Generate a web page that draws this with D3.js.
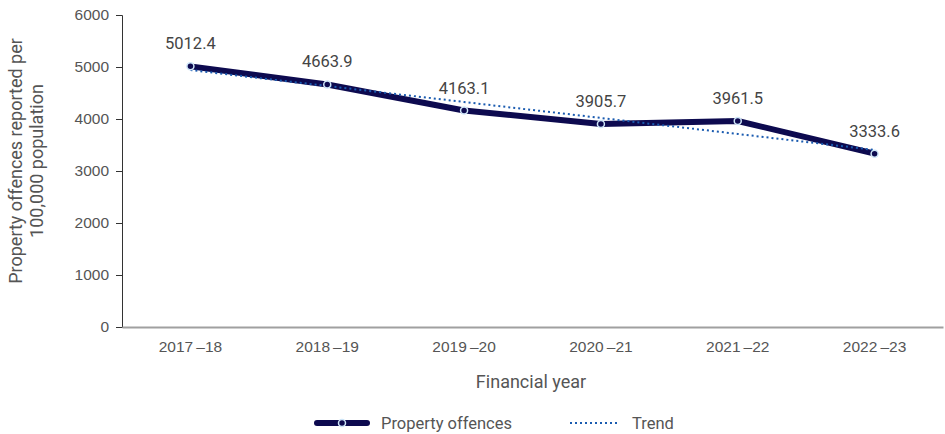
<!DOCTYPE html>
<html>
<head>
<meta charset="utf-8">
<script src="https://cdn.jsdelivr.net/npm/d3@7/dist/d3.min.js"></script>
<style>
  html, body { margin: 0; padding: 0; background: #fff; }
  svg { display: block; font-family: Roboto, "Noto Sans", sans-serif; }
</style>
</head>
<body>
<svg id="chart" width="945" height="434"></svg>
<script>
// Financial years and reported property offences per 100,000 population
const years = ["2017\u2009\u201318", "2018\u2009\u201319", "2019\u2009\u201320", "2020\u2009\u201321", "2021\u2009\u201322", "2022\u2009\u201323"];
const offences = [5012.4, 4663.9, 4163.1, 3905.7, 3961.5, 3333.6];
// Linear trend line values for each year
const trend = [4941.9, 4634.5, 4327.1, 4019.6, 3712.2, 3404.8];
const yTicks = [0, 1000, 2000, 3000, 4000, 5000, 6000];

const svg = d3.select("#chart");
const margin = { left: 122, right: 2, top: 15, bottom: 107 };
const W = 945, H = 434;

const x = d3.scaleBand().domain(years).range([margin.left, W - margin.right]);
const y = d3.scaleLinear().domain([0, 6000]).range([H - margin.bottom, margin.top]);
const cx = d => x(d) + x.bandwidth() / 2;

// Y axis
const yAxis = svg.append("g")
  .attr("transform", `translate(${margin.left},0)`)
  .call(d3.axisLeft(y).tickValues(yTicks).tickSize(6).tickPadding(7).tickFormat(d3.format("d")));
yAxis.select(".domain").attr("stroke", "#333").attr("stroke-width", 1);
yAxis.selectAll(".tick line").attr("stroke", "#333");
yAxis.selectAll(".tick text").attr("fill", "#555").style("font-size", "15.5px");

// X axis
const xAxis = svg.append("g")
  .attr("transform", `translate(0,${y(0)})`)
  .call(d3.axisBottom(x).tickSize(0).tickPadding(14));
xAxis.select(".domain").attr("stroke", "#a0a0a0").attr("stroke-width", 2);
xAxis.selectAll(".tick text").attr("fill", "#555").style("font-size", "15.5px");

// Axis titles
svg.append("text")
  .attr("x", 531).attr("y", 388)
  .attr("text-anchor", "middle").attr("fill", "#555").style("font-size", "18px")
  .text("Financial year");

const yTitle = svg.append("text")
  .attr("transform", `translate(0,${(y(0) + y(6000)) / 2 - 10}) rotate(-90)`)
  .attr("text-anchor", "middle").attr("fill", "#555").style("font-size", "18px");
yTitle.append("tspan").attr("x", 0).attr("y", 22).text("Property offences reported per");
yTitle.append("tspan").attr("x", 0).attr("y", 43).text("100,000 population");

// Property offences line
const line = d3.line().x((d, i) => cx(years[i])).y(d => y(d));
svg.append("path").datum(offences)
  .attr("d", line).attr("fill", "none")
  .attr("stroke", "#0d0a4f").attr("stroke-width", 6)
  .attr("stroke-linejoin", "round").attr("stroke-linecap", "butt");

// Trend line (dotted)
svg.append("path").datum(trend)
  .attr("d", line).attr("fill", "none")
  .attr("stroke", "#1a5bb0").attr("stroke-width", 2)
  .attr("stroke-dasharray", "2,3");

// Markers
svg.selectAll("circle.pt").data(offences).enter().append("circle")
  .attr("class", "pt")
  .attr("cx", (d, i) => cx(years[i])).attr("cy", d => y(d))
  .attr("r", 3.5).attr("fill", "#0d0a4f")
  .attr("stroke", "#cfe6f8").attr("stroke-width", 1.5);

// Value labels
svg.selectAll("text.val").data(offences).enter().append("text")
  .attr("class", "val")
  .attr("x", (d, i) => cx(years[i])).attr("y", d => y(d) - 17)
  .attr("text-anchor", "middle").attr("fill", "#444").style("font-size", "16.5px")
  .text(d => d3.format(".1f")(d));

// Legend
const lg = svg.append("g").attr("transform", "translate(0,423)");
lg.append("line").attr("x1", 317).attr("x2", 367).attr("y1", 0).attr("y2", 0)
  .attr("stroke", "#0d0a4f").attr("stroke-width", 6).attr("stroke-linecap", "round");
lg.append("circle").attr("cx", 342).attr("cy", 0).attr("r", 3.5)
  .attr("fill", "#0d0a4f").attr("stroke", "#cfe6f8").attr("stroke-width", 1.5);
lg.append("text").attr("x", 381).attr("y", 6).attr("fill", "#555").style("font-size", "16.5px")
  .text("Property offences");
lg.append("line").attr("x1", 570).attr("x2", 620).attr("y1", 0).attr("y2", 0)
  .attr("stroke", "#1a5bb0").attr("stroke-width", 2).attr("stroke-dasharray", "2,3");
lg.append("text").attr("x", 632).attr("y", 6).attr("fill", "#555").style("font-size", "16.5px")
  .text("Trend");
</script>
</body>
</html>
